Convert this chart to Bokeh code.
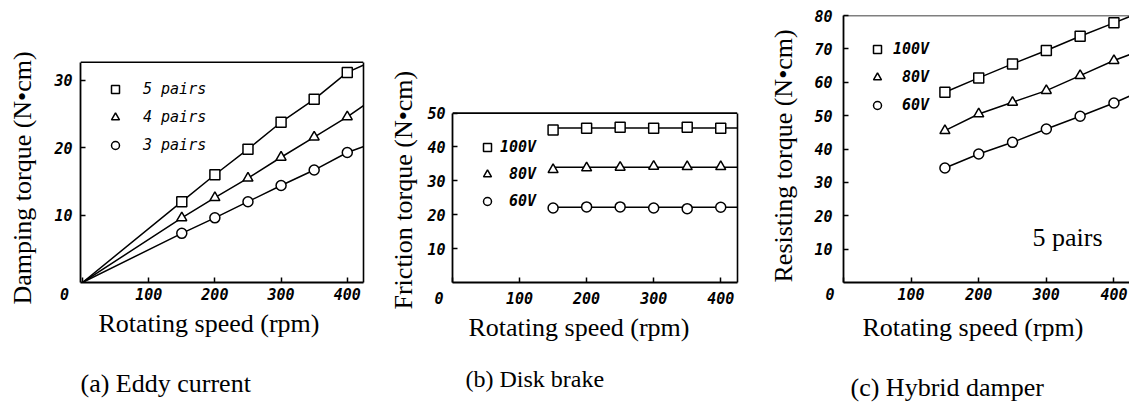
from bokeh.plotting import figure
from bokeh.layouts import row
from bokeh.models import Legend, LegendItem, Label, FixedTicker, Span, LinearAxis, Title
from bokeh.embed import file_html
from bokeh.resources import INLINE

# ---------------- data ----------------
speed = [150, 200, 250, 300, 350, 400]

# (a) Eddy current
a_names = ["5 pairs", "4 pairs", "3 pairs"]
a_5 = [12.0, 16.0, 19.8, 23.8, 27.2, 31.2]
a_4 = [9.6, 12.6, 15.5, 18.6, 21.6, 24.6]
a_3 = [7.3, 9.6, 12.0, 14.4, 16.7, 19.3]
a_line_x = [0, 150, 200, 250, 300, 350, 400, 425]
a_line_5 = [0, 12.0, 16.0, 19.8, 23.8, 27.2, 31.2, 32.3]
a_line_4 = [0, 9.6, 12.6, 15.5, 18.6, 21.6, 24.6, 26.3]
a_line_3 = [0, 7.3, 9.6, 12.0, 14.4, 16.7, 19.3, 20.2]

# (b) Disk brake
b_names = ["100V", "\u00a080V", "\u00a060V"]
b_100 = [45.0, 45.5, 45.8, 45.5, 45.8, 45.5]
b_80 = [33.3, 33.8, 34.0, 34.3, 34.2, 34.2]
b_60 = [22.0, 22.3, 22.3, 22.0, 21.8, 22.2]
b_line_x = [150, 425]
b_line_100 = [45.6, 45.6]
b_line_80 = [34.0, 34.0]
b_line_60 = [22.2, 22.2]

# (c) Hybrid damper
c_names = ["100V", "\u00a080V", "\u00a060V"]
c_100 = [57.0, 61.3, 65.5, 69.5, 73.8, 77.8]
c_80 = [45.5, 50.5, 54.0, 57.5, 62.0, 66.5]
c_60 = [34.3, 38.5, 42.0, 46.0, 49.8, 53.8]
c_line_x = [150, 200, 250, 300, 350, 400, 425]
c_line_100 = [57.0, 61.3, 65.5, 69.5, 73.8, 77.8, 79.8]
c_line_80 = [45.5, 50.5, 54.0, 57.5, 62.0, 66.5, 68.4]
c_line_60 = [34.3, 38.5, 42.0, 46.0, 49.8, 53.8, 56.0]

x_ticks = [0, 100, 200, 300, 400]
a_yticks = [10, 20, 30]
b_yticks = [10, 20, 30, 40, 50]
c_yticks = [10, 20, 30, 40, 50, 60, 70, 80]

a_ymax, b_ymax, c_ymax = 32.7, 50, 80   # top of each plotted box

xlabel = "Rotating speed (rpm)"
a_ylabel = "Damping torque (N\u2022cm)"
b_ylabel = "Friction torque (N\u2022cm)"
c_ylabel = "Resisting torque (N\u2022cm)"
a_caption = "(a) Eddy current"
b_caption = "(b) Disk brake"
c_caption = "(c) Hybrid damper"

markers = ["square", "triangle", "circle"]

SERIF = "Liberation Serif"
MONO = "DejaVu Sans Mono"
NB = "\u00a0"
H = 402


def make_panel(width, mleft, mright, xr, yr, box_top, yticks, ytick_standoff,
               xtick_standoff, zero_pad, ylabel, ylabel_offset, ylabel_lh,
               xlabel_offset, xlabel_standoff, caption, cap_offset, cap_size,
               cap_lh, right_border=True):
    p = figure(width=width, height=H, x_range=xr, y_range=yr,
               output_backend="svg", toolbar_location=None, title=None,
               min_border_left=mleft, min_border_right=mright,
               min_border_top=15, min_border_bottom=119)
    p.grid.visible = False
    p.background_fill_color = "white"
    p.border_fill_color = "white"
    p.outline_line_color = None
    p.add_layout(Span(location=box_top, dimension="width",
                      line_color="black", line_width=1.6))
    if right_border:
        ra = LinearAxis(bounds=(yr[0], box_top), ticker=FixedTicker(ticks=[]),
                        axis_line_width=1.6, axis_line_color="black",
                        major_tick_line_color=None, minor_tick_line_color=None,
                        major_label_text_font_size="0px")
        p.add_layout(ra, "right")
    for ax in (p.xaxis[0], p.yaxis[0]):
        ax.axis_line_width = 1.8
        ax.axis_line_color = "black"
        ax.major_tick_in = 5
        ax.major_tick_out = 0
        ax.major_tick_line_width = 1.5
        ax.minor_tick_line_color = None
        ax.major_label_text_font = MONO
        ax.major_label_text_font_style = "bold italic"
        ax.major_label_text_font_size = "15px"
        ax.major_label_text_color = "black"
    xa, ya = p.xaxis[0], p.yaxis[0]
    xa.ticker = FixedTicker(ticks=x_ticks)
    xa.major_label_overrides = {0: "0" + NB * zero_pad}
    ya.ticker = FixedTicker(ticks=yticks)
    ya.bounds = (yr[0], box_top)
    xa.major_label_standoff = xtick_standoff
    ya.major_label_standoff = ytick_standoff
    # y label: a title on the left side (empty second line keeps it clear of ticks)
    ty = Title(text=ylabel + "\n", align="left", offset=ylabel_offset,
               vertical_align="bottom", standoff=0, text_font=SERIF,
               text_font_style="normal", text_font_size="26px",
               text_line_height=ylabel_lh, text_color="black")
    p.add_layout(ty, "left")
    # x label and caption below
    t1 = Title(text=xlabel, align="left", offset=xlabel_offset,
               standoff=xlabel_standoff, text_font=SERIF,
               text_font_style="normal", text_font_size="26px",
               text_color="black")
    p.add_layout(t1, "below")
    t2 = Title(text="\n" + caption, align="left", offset=cap_offset,
               standoff=0, text_font=SERIF, text_font_style="normal",
               text_font_size=cap_size, text_line_height=cap_lh,
               text_color="black")
    p.add_layout(t2, "below")
    return p


def add_series(p, line_x, line_ys, ys, names, legend_xy, standoff, spacing,
               font_style):
    items = []
    for lx, ly, y, name, mk in zip(line_x, line_ys, ys, names, markers):
        p.line(lx, ly, line_color="black", line_width=1.5)
        r = p.scatter(speed, y, marker=mk, size=10, line_color="black",
                      line_width=1.5, fill_color="white")
        items.append(LegendItem(label=name, renderers=[r]))
    leg = Legend(items=items, location=legend_xy, border_line_color=None,
                 background_fill_alpha=0, padding=0, margin=0,
                 glyph_width=20, glyph_height=20, label_height=20,
                 spacing=spacing, label_standoff=standoff,
                 label_text_font=MONO, label_text_font_style=font_style,
                 label_text_font_size="15px", label_text_color="black")
    p.add_layout(leg, "center")


# (a)  frame: x 80..363, y 15..283
pa = make_panel(375, 80, 12, (-3, 424.5), (0, 39.65), a_ymax, a_yticks, 8, 3, 4,
                a_ylabel, -22, 0.5, 18, 0, a_caption, 0, "26px", 1.0)
add_series(pa, [a_line_x] * 3, [a_line_5, a_line_4, a_line_3], [a_5, a_4, a_3],
           a_names, (25, 127), 18, 8, "italic")

# (b)  frame: x 452..737
pb = make_panel(385, 77, 23, (0, 425), (0, 78.8), b_ymax, b_yticks, 7, 7, 3,
                b_ylabel, -27, 0.23, 16, 0, b_caption, 13, "24px", 0.9)
add_series(pb, [b_line_x] * 3, [b_line_100, b_line_80, b_line_60],
           [b_100, b_80, b_60], b_names, (25, 71), 3, 7, "bold italic")

# (c)  frame: x 843..1129
pc = make_panel(369, 83, 0, (0, 423), (0, 80), c_ymax, c_yticks, 11, 3, 3,
                c_ylabel, 0, 0.45, 19, 8, c_caption, 7, "26px", 0.9,
                right_border=False)
add_series(pc, [c_line_x] * 3, [c_line_100, c_line_80, c_line_60],
           [c_100, c_80, c_60], c_names, (24, 167), 6, 8, "bold italic")
pc.add_layout(Label(x=189, y=45, x_units="screen", y_units="screen",
                    text="5 pairs", text_font=SERIF, text_font_size="26px",
                    text_align="left", text_baseline="middle",
                    text_color="black"))

layout = row(pa, pb, pc, spacing=0)
open("out.html", "w").write(file_html(layout, INLINE))
